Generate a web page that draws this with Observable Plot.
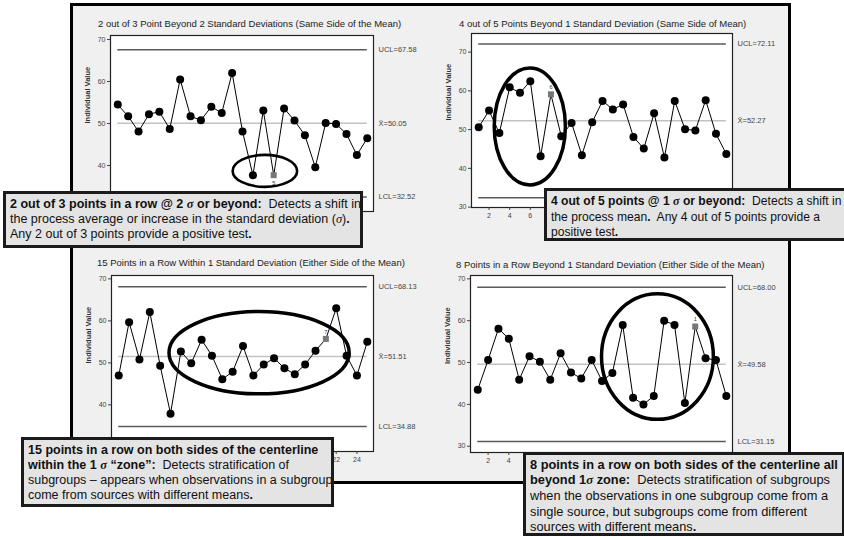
<!DOCTYPE html>
<html><head><meta charset="utf-8">
<script src="https://cdn.jsdelivr.net/npm/d3@7"></script>
<script src="https://cdn.jsdelivr.net/npm/@observablehq/plot@0.6"></script>
<style>
html,body{margin:0;padding:0;background:#fff;}
#root{position:relative;width:844px;height:537px;overflow:hidden;font-family:"Liberation Sans",Arial,sans-serif;}
#frame{position:absolute;left:70px;top:3px;width:715px;height:475px;border:3px solid #000;background:#f0f0f0;}
.ptitle{position:absolute;font-size:9.5px;color:#222;white-space:nowrap;font-family:"Liberation Sans",Arial,sans-serif;}
.note{position:absolute;box-sizing:border-box;border:3px solid #1b1b1b;background:#e4e4e4;font-size:12.5px;line-height:15px;padding:3px 4px;white-space:nowrap;color:#111;}
.sig{font-family:"Liberation Serif",serif;font-style:italic;font-weight:bold;}
.sig2{font-family:"Liberation Serif",serif;font-style:italic;}
</style></head><body><div id="root"><div id="frame"></div></div>
<script>
// ---- data ----
const subgroup = [1,2,3,4,5,6,7,8,9,10,11,12,13,14,15,16,17,18,19,20,21,22,23,24,25];
const titles = [
  "2 out of 3 Point Beyond 2 Standard Deviations (Same Side of the Mean)",
  "4 out of 5 Points Beyond 1 Standard Deviation (Same Side of Mean)",
  "15 Points in a Row Within 1 Standard Deviation (Either Side of the Mean)",
  "8 Points in a Row Beyond 1 Standard Deviation (Either Side of the Mean)"
];
const p1Values = [54.5,51.7,48.1,52.2,52.8,48.7,60.5,51.7,50.8,54.0,52.5,62.0,48.1,37.7,53.1,37.7,53.6,50.7,47.2,39.6,50.1,49.9,47.5,42.5,46.5];
const p2Values = [50.6,54.9,49.1,60.9,59.5,62.5,43.1,59.1,48.3,51.7,43.4,51.9,57.4,55.2,56.5,48.1,45.1,54.2,42.8,57.4,50.1,49.8,57.6,48.9,43.7];
const p3Values = [47.0,59.7,50.8,62.1,49.3,37.9,52.7,49.9,55.5,51.7,46.1,47.9,54.0,47.0,49.6,51.1,48.7,47.3,49.6,52.9,55.7,63.0,51.7,47.0,55.0];
const p4Values = [43.5,50.6,58.1,55.7,45.9,51.5,50.2,45.9,52.2,47.6,46.2,50.6,45.6,47.5,59.0,41.6,40.0,42.0,60.0,59.0,40.3,58.6,51.0,50.6,42.0];
const uclValues = [67.58, 72.11, 68.13, 68.00];
const centerValues = [50.05, 52.27, 51.51, 49.58];
const lclValues = [32.52, 32.43, 34.88, 31.15];
const flagIndex = [16, 8, 21, 22];
const flagLabels = ["5", "6", "7", "1"];
const yTicks = [30, 40, 50, 60, 70];
const xTicks = [2, 4, 6, 8, 10, 12, 14, 16, 18, 20, 22, 24];
const yLabel = "Individual Value";
// annotation ellipses in data units: centre subgroup, centre value, half-width (subgroups), half-height (value)
const ellipseCx = [15.2, 6.0, 14.6, 18.4];
const ellipseCy = [38.6, 50.7, 52.3, 51.3];
const ellipseRx = [3.1, 3.45, 8.7, 5.4];
const ellipseRy = [3.8, 15.1, 9.8, 15.0];

const allValues = [p1Values, p2Values, p3Values, p4Values];

// ---- layout ----
const boxes = [
  {left:110, top:35, w:263, h:176, y:[29.05,70.95], tl:98, tt:18, sw:2.6},
  {left:471, top:33, w:261, h:174, y:[29.9,74.8], tl:459, tt:18, sw:3.5},
  {left:111, top:275, w:262, h:176, y:[28.9,70.8], tl:97, tt:257, sw:3.5},
  {left:470, top:275, w:262, h:177, y:[28.5,70.8], tl:456, tt:259, sw:3.5}
];
const root = document.getElementById("root");

boxes.forEach((b, i) => {
  const data = subgroup.map((s, j) => ({s, v: allValues[i][j], flag: s === flagIndex[i]}));
  const limits = [
    {v: uclValues[i], label: "UCL=" + uclValues[i].toFixed(2), kind: "limit"},
    {v: centerValues[i], label: "X\u0304=" + centerValues[i].toFixed(2), kind: "center"},
    {v: lclValues[i], label: "LCL=" + lclValues[i].toFixed(2), kind: "limit"}
  ];
  const ml = 45, mt = 5, mr = 60, mb = 20;
  const plot = Plot.plot({
    width: ml + b.w + mr, height: mt + b.h + mb,
    marginLeft: ml, marginTop: mt, marginRight: mr, marginBottom: mb,
    x: {domain: [0.3, 25.6]},
    y: {domain: b.y},
    style: {background: "transparent", fontFamily: "Liberation Sans, Arial, sans-serif", fontSize: "7px", color: "#444"},
    marks: [
      Plot.frame({fill: "white", stroke: "#222", strokeWidth: 1.2}),
      Plot.ruleY(limits, {y: "v", x1: 1, x2: 25, stroke: d => d.kind === "center" ? "#c2c2c2" : "#5a5a5a", strokeWidth: 1.5}),
      Plot.line(data, {x: "s", y: "v", stroke: "#000", strokeWidth: 1}),
      Plot.dot(data.filter(d => !d.flag), {x: "s", y: "v", r: 4, fill: "#000"}),
      Plot.dot(data.filter(d => d.flag), {x: "s", y: "v", symbol: "square", r: 3.4, fill: "#777"}),
      Plot.text(data.filter(d => d.flag), {x: "s", y: "v", text: () => flagLabels[i], dy: i === 0 ? 8 : -7, fontSize: 5.5, fill: "#333"}),
      Plot.text(limits, {y: "v", text: "label", frameAnchor: "right", textAnchor: "start", dx: 5, fontSize: 7.5, fill: "#444"}),
      Plot.axisY({ticks: yTicks, tickSize: 3, tickPadding: 2, label: null}),
      Plot.axisX({ticks: xTicks, tickSize: 3, tickPadding: 3, label: null}),
      Plot.text([yLabel], {text: d => d, frameAnchor: "left", rotate: -90, dx: -23, fontSize: 7.5, fontWeight: "bold", fill: "#333"})
    ]
  });
  const sx = plot.scale("x"), sy = plot.scale("y");
  d3.select(plot).append("ellipse")
    .attr("cx", sx.apply(ellipseCx[i]))
    .attr("cy", sy.apply(ellipseCy[i]))
    .attr("rx", Math.abs(sx.apply(ellipseCx[i] + ellipseRx[i]) - sx.apply(ellipseCx[i])))
    .attr("ry", Math.abs(sy.apply(ellipseCy[i] + ellipseRy[i]) - sy.apply(ellipseCy[i])))
    .attr("fill", "none").attr("stroke", "#000").attr("stroke-width", b.sw);
  plot.style.position = "absolute";
  plot.style.left = (b.left - ml) + "px";
  plot.style.top = (b.top - mt) + "px";
  root.appendChild(plot);
  const t = document.createElement("div");
  t.className = "ptitle";
  t.style.left = b.tl + "px";
  t.style.top = b.tt + "px";
  t.textContent = titles[i];
  root.appendChild(t);
});

const notes = [
  {l:3, t:191, w:360, h:57, fs:12.5, lh:15, pt:3, html:'<b>2 out of 3 points in a row @ 2 <span class="sig">σ</span> or beyond:</b>&nbsp; Detects a shift in<br>the process average or increase in the standard deviation (<span class="sig2">σ</span>)<b>.</b><br>Any 2 out of 3 points provide a positive test<b>.</b>'},
  {l:544, t:188, w:320, h:53, fs:12.1, lh:15.5, pt:3, html:'<b>4 out of 5 points @ 1 <span class="sig">σ</span> or beyond:</b>&nbsp; Detects a shift in<br>the process mean<b>.</b>&nbsp; Any 4 out of 5 points provide a<br>positive test<b>.</b>'},
  {l:21, t:437, w:313, h:70, fs:12.5, lh:15, pt:3, html:'<b>15 points in a row on both sides of the centerline<br>within the 1 <span class="sig">σ</span> “zone”:</b>&nbsp; Detects stratification of<br>subgroups – appears when observations in a subgroup<br>come from sources with different means<b>.</b>'},
  {l:523, t:452, w:322, h:84, fs:12.8, lh:15.2, pt:2, html:'<b>8 points in a row on both sides of the centerline all<br>beyond 1<span class="sig">σ</span> zone:</b>&nbsp; Detects stratification of subgroups<br>when the observations in one subgroup come from a<br>single source, but subgroups come from different<br>sources with different means<b>.</b>'}
];
notes.forEach(n => {
  const d = document.createElement("div");
  d.className = "note";
  d.style.left = n.l + "px"; d.style.top = n.t + "px";
  d.style.width = n.w + "px"; d.style.height = n.h + "px";
  d.style.fontSize = n.fs + "px"; d.style.lineHeight = n.lh + "px";
  d.style.paddingTop = n.pt + "px";
  d.innerHTML = n.html;
  root.appendChild(d);
});
</script></body></html>
